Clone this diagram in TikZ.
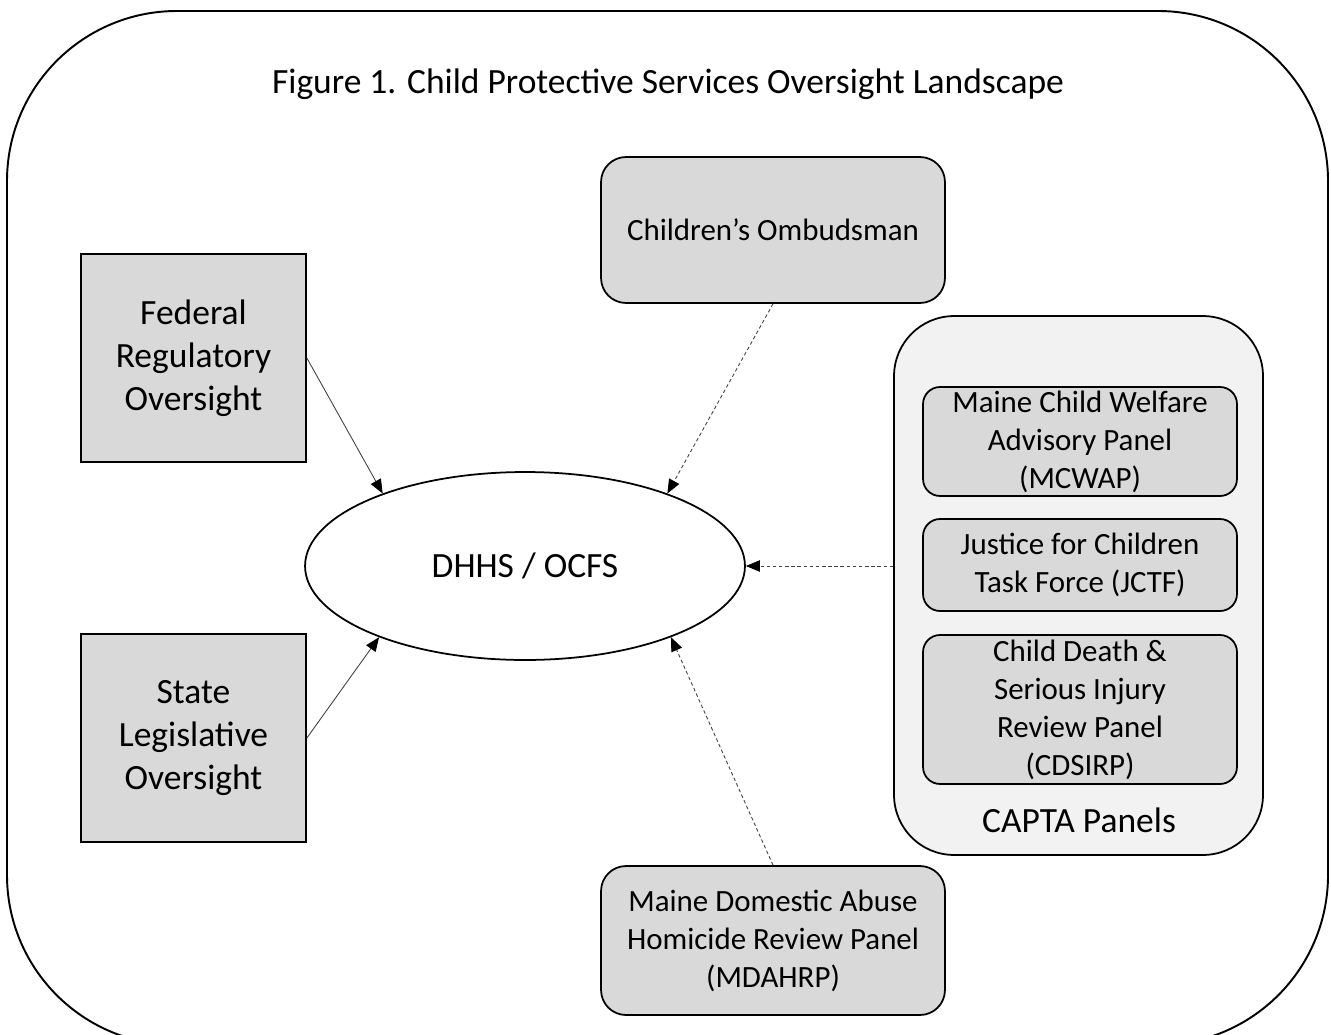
\documentclass[tikz,border=0pt]{standalone}
\usepackage{fontspec}
\setmainfont{Carlito}
\usetikzlibrary{arrows.meta}
\usetikzlibrary{shapes.geometric}
\definecolor{boxgray}{HTML}{D9D9D9}
\definecolor{panelgray}{HTML}{F2F2F2}

\begin{document}
\begin{tikzpicture}[x=0.02cm,y=-0.02cm,
    txt/.style={font=\fontsize{17.6}{21.6}\selectfont},
    bigtxt/.style={font=\fontsize{20.2}{24.5}\selectfont},
    body/.style={draw,line width=1pt,fill=boxgray,align=center,inner xsep=2pt,inner ysep=0pt},
    oversight/.style={body,bigtxt,minimum width=4.5cm,minimum height=4.16cm},
    watch/.style={body,txt,rounded corners=0.5cm,minimum width=6.88cm},
    panel/.style={body,txt,rounded corners=0.34cm,minimum width=6.28cm},
    link/.style={draw=black!75,line width=0.5pt,-{Triangle[length=8pt,width=6.5pt,color=black]}},
    dotlink/.style={link,dash pattern=on 2pt off 1.5pt}]
  \useasboundingbox (0,0) rectangle (1331,1034);
  \draw[line width=1.1pt,rounded corners=3.4cm] (7,11) rectangle (1328,1045);
  \node[bigtxt] (title) at (668,84) {Figure 1. Child Protective Services Oversight Landscape};

  \node[oversight] (fed) at (193.5,358) {Federal\\Regulatory\\Oversight};
  \node[oversight] (state) at (193.5,738) {State\\Legislative\\Oversight};
  \node[ellipse,draw,line width=1pt,fill=white,bigtxt,minimum width=8.8cm,
    minimum height=3.76cm,inner sep=0pt] (dhhs) at (525,566) {DHHS / OCFS};
  \node[watch,minimum height=2.92cm] (omb) at (773,230) {Children’s Ombudsman};
  \node[watch,minimum height=2.98cm] (mdahrp) at (773,940.5)
    {Maine Domestic Abuse\\Homicide Review Panel\\(MDAHRP)};

  % CAPTA panels
  \node[draw,line width=1pt,fill=panelgray,rounded corners=1.2cm,
    minimum width=7.38cm,minimum height=10.78cm] (capta) at (1078.5,585.5) {};
  \foreach \name/\y/\h/\txt in {
      mcwap/441.5/2.18/{Maine Child Welfare\\Advisory Panel\\(MCWAP)},
      jctf/565/1.84/{Justice for Children\\Task Force (JCTF)},
      cdsirp/709.5/2.98/{Child Death \&\\Serious Injury\\Review Panel\\(CDSIRP)}} {
      \node[panel,minimum height=\h cm] (\name) at (1080,\y) {\txt};
    }
  \node[bigtxt] (captalbl) at (1079,820) {CAPTA Panels};

  \draw[link] (fed.east) -- (dhhs.153);
  \draw[link] (state.east) -- (dhhs.206);
  \draw[dotlink] (omb.south) -- (dhhs.27);
  \draw[dotlink] (capta.west |- dhhs.east) -- (dhhs.east);
  \draw[dotlink] (mdahrp.north) -- (dhhs.334);
\end{tikzpicture}
\end{document}
